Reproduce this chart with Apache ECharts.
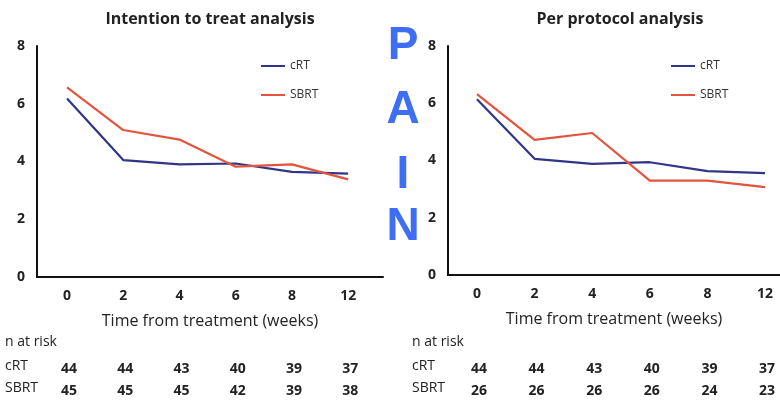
<!DOCTYPE html>
<html><head><meta charset="utf-8">
<script src="https://cdn.jsdelivr.net/npm/echarts@6/dist/echarts.min.js"></script>
<style>html,body{margin:0;padding:0;background:#fff}#c{width:780px;height:400px}</style>
</head><body><div id="c"></div>
<script>
const weeks = ['0','2','4','6','8','12'];
const ittCRT = [6.18, 4.05, 3.90, 3.93, 3.64, 3.58];
const ittSBRT = [6.57, 5.09, 4.76, 3.82, 3.90, 3.38];
const ppCRT = [6.14, 4.06, 3.88, 3.94, 3.63, 3.56];
const ppSBRT = [6.32, 4.72, 4.96, 3.30, 3.30, 3.07];
const riskITT_CRT = [44, 44, 43, 40, 39, 37];
const riskITT_SBRT = [45, 45, 45, 42, 39, 38];
const riskPP_CRT = [44, 44, 43, 40, 39, 37];
const riskPP_SBRT = [26, 26, 26, 26, 24, 23];
const yTicks = [0, 2, 4, 6, 8];
const titles = ['Intention to treat analysis', 'Per protocol analysis'];
const seriesNames = ['cRT', 'SBRT'];
const panelLetters = ['P', 'A', 'I', 'N'];

const FONT = '"Open Sans", "DejaVu Sans", sans-serif';
const C_CRT = '#2f3688';
const C_SBRT = '#e2543e';
const TXT = '#222';

const chart = echarts.init(document.getElementById('c'), null, {renderer: 'canvas'});
const pairs = a => a.map((v, i) => [i, v]);

function xAx(gi, min, max) {
  return {
    type: 'value', gridIndex: gi, min: min, max: max,
    axisLine: {show: true, onZero: false, lineStyle: {color: '#111', width: 2}},
    axisTick: {show: false}, splitLine: {show: false},
    axisLabel: {customValues: [0,1,2,3,4,5], formatter: v => weeks[Math.round(v)] || '',
      fontFamily: FONT, fontWeight: 'bold', fontSize: 14, color: TXT, margin: 12},
    name: 'Time from treatment (weeks)', nameLocation: 'middle', nameGap: 36,
    nameTextStyle: {fontFamily: FONT, fontSize: 16, color: TXT}
  };
}
function yAx(gi) {
  return {
    type: 'value', gridIndex: gi, min: 0, max: 8, interval: 2,
    axisLine: {show: true, onZero: false, lineStyle: {color: '#111', width: 2}},
    axisTick: {show: false}, splitLine: {show: false},
    axisLabel: {fontFamily: FONT, fontWeight: 'bold', fontSize: 14, color: TXT, margin: 12}
  };
}
function ser(name, data, xi, color) {
  return {type: 'line', name: name, data: pairs(data), xAxisIndex: xi, yAxisIndex: xi,
    showSymbol: false, symbol: 'none', lineStyle: {color: color, width: 2.2}, itemStyle: {color: color},
    animation: false};
}
function legend(left) {
  return {left: left, top: 55, orient: 'vertical', itemGap: 17, itemWidth: 24, itemHeight: 2,
    icon: 'rect', data: seriesNames,
    textStyle: {fontFamily: FONT, fontSize: 12, color: '#333', padding: [0,0,0,0]}};
}

chart.setOption({
  animation: false,
  title: [
    {text: titles[0], left: 205, top: 6, textAlign: 'center',
      textStyle: {fontFamily: FONT, fontWeight: 'bold', fontSize: 16, color: TXT}},
    {text: titles[1], left: 615, top: 6, textAlign: 'center',
      textStyle: {fontFamily: FONT, fontWeight: 'bold', fontSize: 16, color: TXT}}
  ],
  legend: [legend(256), legend(666)],
  grid: [
    {left: 37, top: 46, width: 346, height: 231},
    {left: 448, top: 46, width: 332, height: 229}
  ],
  xAxis: [xAx(0, -0.534, 5.62), xAx(1, -0.503, 5.26)],
  yAxis: [yAx(0), yAx(1)],
  series: [
    ser('cRT', ittCRT, 0, C_CRT), ser('SBRT', ittSBRT, 0, C_SBRT),
    ser('cRT', ppCRT, 1, C_CRT), ser('SBRT', ppSBRT, 1, C_SBRT)
  ]
});

// n at risk tables + PAIN letters
const g = [];
const rowY = [345, 369, 391];
function table(xi, labelX, rowsData) {
  g.push({type: 'text', left: labelX, top: rowY[0] - 10,
    style: {text: 'n at risk', font: '14px ' + FONT, fill: TXT}});
  rowsData.forEach((arr, r) => {
    g.push({type: 'text', left: labelX, top: rowY[r + 1] - 10,
      style: {text: seriesNames[r], font: '14px ' + FONT, fill: TXT}});
    arr.forEach((v, i) => {
      const px = chart.convertToPixel({xAxisIndex: xi}, i);
      g.push({type: 'text', x: px + 2, y: rowY[r + 1],
        style: {text: String(v), font: 'bold 14px ' + FONT, fill: TXT, align: 'center', verticalAlign: 'middle'}});
    });
  });
}
table(0, 5, [riskITT_CRT, riskITT_SBRT]);
table(1, 412, [riskPP_CRT, riskPP_SBRT]);
const letterY = [46, 110, 175, 227];
panelLetters.forEach((ch, i) => {
  g.push({type: 'text', x: 403, y: letterY[i],
    style: {text: ch, font: 'bold 46px "Liberation Sans", Arial, sans-serif', fill: '#3d6ef3', align: 'center', verticalAlign: 'middle'}});
});
chart.setOption({graphic: g});
</script>
</body></html>
